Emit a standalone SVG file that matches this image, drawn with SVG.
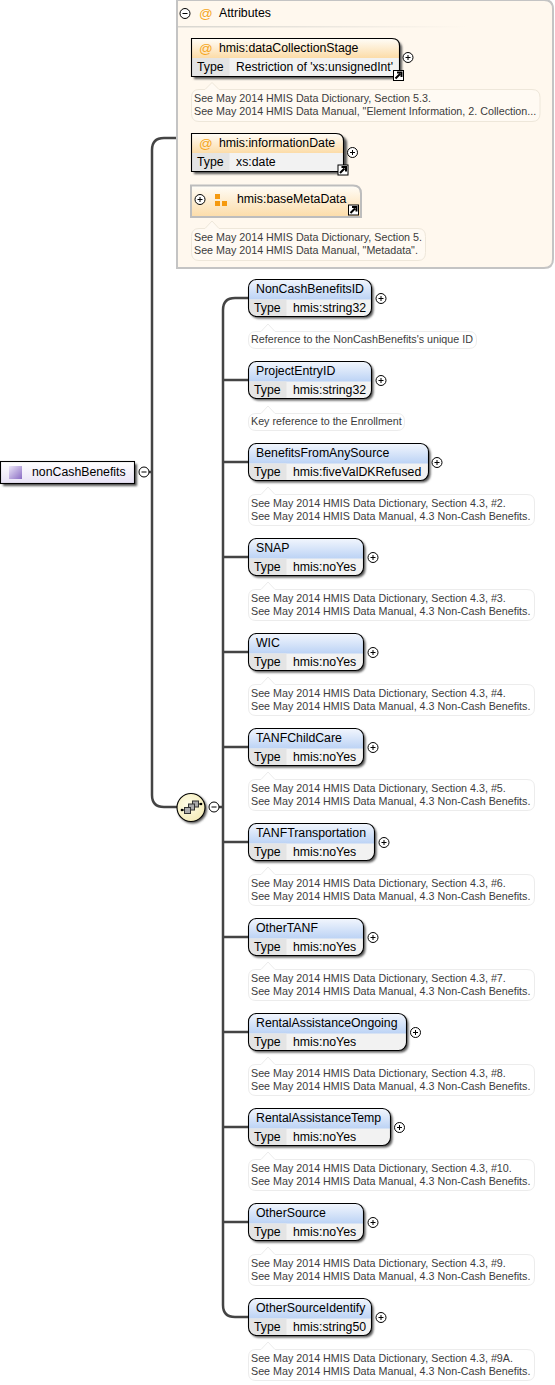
<svg xmlns="http://www.w3.org/2000/svg" width="555" height="1385" viewBox="0 0 555 1385">
<style>
text{font-family:"Liberation Sans",Arial,sans-serif;font-size:12.3px;fill:#000}
.note text{fill:#3c3c3c;font-size:10.73px}
.note path{fill:#fff;stroke:#ececec}
.attnote path{fill:#fffaf3;stroke:#eee7da}
.frame{fill:none;stroke:#000;stroke-width:1.1}
.shadow{fill:#555;filter:url(#soft)}
.row{fill:#f2f2f2}
.tcell{fill:#e4e4e4}
.conn{fill:none;stroke:#444;stroke-width:2.5}
.o{fill:#fff;stroke:#000;stroke-width:1}
.s{stroke:#000;stroke-width:1;fill:none}
.at{fill:#f5a623;font-size:13.500px}
</style>
<defs>
<filter id="soft" x="-10%" y="-10%" width="120%" height="120%"><feGaussianBlur stdDeviation="0.8"/></filter>
<linearGradient id="bl" x1="0" y1="0" x2="0" y2="1"><stop offset="0" stop-color="#f2f6fd"/><stop offset="1" stop-color="#bcd3f5"/></linearGradient>
<linearGradient id="or" x1="0" y1="0" x2="0" y2="1"><stop offset="0" stop-color="#fffdf8"/><stop offset="1" stop-color="#fcdca8"/></linearGradient>
<linearGradient id="pu" x1="0" y1="0" x2="0" y2="1"><stop offset="0" stop-color="#fff"/><stop offset="1" stop-color="#e8e2f6"/></linearGradient>
<linearGradient id="sq" x1="0" y1="0" x2="1" y2="1"><stop offset="0" stop-color="#ece6f8"/><stop offset="1" stop-color="#8a6cc4"/></linearGradient>
<linearGradient id="fade"><stop offset="0" stop-color="#d8d6d0"/><stop offset="1" stop-color="#d8d6d0" stop-opacity="0"/></linearGradient>
<radialGradient id="ye" cx=".4" cy=".4" r=".7"><stop offset="0" stop-color="#fffde8"/><stop offset="1" stop-color="#f3eab4"/></radialGradient>
<g id="plus"><circle class="o" r="5"/><path class="s" d="M-2.500 0H2.500M0-2.500V2.500"/></g>
<g id="minus"><circle class="o" r="5"/><path class="s" d="M-2.500 0H2.500"/></g>
<g id="link"><rect x="-5" y="-5" width="10" height="10" fill="#fff" stroke="#000"/><path d="M-3 3L1.500 -1.500M-1.500-3H3V1.500" fill="none" stroke="#000" stroke-width="2"/></g>
</defs>

<g id="connectors">
<path class="conn" d="M149 472H152M177 138H164Q152 138 152 150V795Q152 807 164 807H177"/>
<path class="conn" d="M219 807H223M249 298H235Q223 298 223 310V1305Q223 1317 235 1317H249"/>
<path class="conn" d="M223 380H249M223 462H249M223 557H249M223 652H249M223 747H249M223 842H249M223 937H249M223 1032H249M223 1127H249M223 1222H249"/>
</g>

<g id="attributes">
<path d="M177 0H544Q553 0 553 9V259Q553 268 544 268H177Z" fill="#fff8ee" stroke="#c4c4c4" stroke-width="2"/>
<rect x="178" y="26" width="290" height="1.500" fill="url(#fade)"/>
<use href="#minus" x="185" y="13.500"/>
<text class="at" x="199" y="18">@</text>
<text x="219" y="17">Attributes</text>
</g>

<g id="attr-dataCollectionStage">
<path class="shadow" d="M194 41H394Q402 41 402 49V79H194Z"/>
<path d="M191.500 38.500H392Q399.500 38.500 399.500 46V58H191.500Z" fill="url(#or)"/>
<rect class="row" x="191.500" y="58" width="208" height="18"/>
<rect class="tcell" x="191.500" y="58" width="38" height="18"/>
<path class="frame" d="M191.500 38.500H392Q399.500 38.500 399.500 46V76.500H191.500Z"/>
<text class="at" x="199" y="53">@</text>
<text x="219" y="52">hmis:dataCollectionStage</text>
<text x="197" y="71">Type</text>
<text x="236" y="71" textLength="157" lengthAdjust="spacingAndGlyphs">Restriction of 'xs:unsignedInt'</text>
<use href="#plus" x="408" y="57.500"/>
<use href="#link" x="398.500" y="75.500"/>
</g>
<g id="note-dataCollectionStage" class="note attnote">
<path d="M199 89.500H205L212 82.500L219 89.500H532Q540 89.500 540 97.500V113.500Q540 121.500 532 121.500H199Q191.500 121.500 191.500 113.500V97.500Q191.500 89.500 199 89.500Z"/>
<text x="194" y="102">See May 2014 HMIS Data Dictionary, Section 5.3.</text>
<text x="194" y="115">See May 2014 HMIS Data Manual, "Element Information, 2. Collection...</text>
</g>

<g id="attr-informationDate">
<path class="shadow" d="M194 136H339Q347 136 347 144V174H194Z"/>
<path d="M191.500 133.500H336Q343.500 133.500 343.500 141V153H191.500Z" fill="url(#or)"/>
<rect class="row" x="191.500" y="153" width="152" height="18"/>
<rect class="tcell" x="191.500" y="153" width="38" height="18"/>
<path class="frame" d="M191.500 133.500H336Q343.500 133.500 343.500 141V171.500H191.500Z"/>
<text class="at" x="199" y="148">@</text>
<text x="219" y="147">hmis:informationDate</text>
<text x="197" y="166">Type</text>
<text x="236" y="166">xs:date</text>
<use href="#plus" x="352.500" y="152.500"/>
<use href="#link" x="343" y="170"/>
</g>

<g id="attr-baseMetaData">
<path d="M191 185.500H353Q361 185.500 361 193.500V217H191Z" fill="url(#or)" stroke="#bdbdbd" stroke-width="2"/>
<use href="#plus" x="200" y="199.500"/>
<path d="M215 194h5v5h-5zM215 201h5v5h-5zM222 201h5v5h-5z" fill="#f59a10"/>
<text x="237" y="203">hmis:baseMetaData</text>
<use href="#link" x="353.500" y="210"/>
</g>
<g id="note-baseMetaData" class="note attnote">
<path d="M199 228.500H205L212 221L219 228.500H418Q425.500 228.500 425.500 236.500V252.500Q425.500 260.500 418 260.500H199Q191.500 260.500 191.500 252.500V236.500Q191.500 228.500 199 228.500Z"/>
<text x="194" y="241">See May 2014 HMIS Data Dictionary, Section 5.</text>
<text x="194" y="254">See May 2014 HMIS Data Manual, "Metadata".</text>
</g>

<g id="root-nonCashBenefits">
<rect class="shadow" x="3" y="464" width="134" height="22"/>
<rect x="0.500" y="461.500" width="134" height="22" fill="url(#pu)" stroke="#000" stroke-width="1.100"/>
<rect x="9" y="466" width="13" height="13" fill="url(#sq)"/>
<text x="32" y="476">nonCashBenefits</text>
<use href="#minus" x="144" y="472"/>
</g>

<g id="sequence">
<circle class="shadow" cx="192.500" cy="809" r="14.500"/>
<circle cx="191" cy="807.500" r="14" fill="url(#ye)" stroke="#000" stroke-width="1.100"/>
<path d="M182 810H187M196 804H201" stroke="#000"/>
<circle cx="182" cy="810" r="1.300"/><circle cx="201" cy="804" r="1.300"/>
<rect x="192.500" y="801" width="6" height="6" fill="#aaa" stroke="#333"/>
<rect x="188.500" y="804" width="6" height="6" fill="#aaa" stroke="#333"/>
<rect x="184.500" y="807.500" width="6" height="6" fill="#aaa" stroke="#333"/>
<use href="#minus" x="214" y="807"/>
</g>

<g id="el-NonCashBenefitsID" transform="translate(248.500 279.500)"><rect class="shadow" x="2" y="2" width="123" height="37" rx="8"/><rect class="row" width="123" height="37" rx="8"/><path d="M0 20V8Q0 0 8 0H115Q123 0 123 8V20Z" fill="url(#bl)"/><path class="tcell" d="M0 20H38V37H8Q0 37 0 29Z"/><rect class="frame" width="123" height="37" rx="8"/><text x="7.500" y="13.500">NonCashBenefitsID</text><text x="5.500" y="32.500">Type</text><text x="44.500" y="32.500">hmis:string32</text><use href="#plus" x="132.500" y="19"/></g>
<g id="note-NonCashBenefitsID" class="note"><path d="M256 331.500H261L268 324L275 331.500H469Q476.500 331.500 476.500 339V341Q476.500 348.500 469 348.500H256Q248.500 348.500 248.500 341V339Q248.500 331.500 256 331.500Z"/><text x="251" y="343">Reference to the NonCashBenefits's unique ID</text></g>

<g id="el-ProjectEntryID" transform="translate(248.500 361.500)"><rect class="shadow" x="2" y="2" width="123" height="37" rx="8"/><rect class="row" width="123" height="37" rx="8"/><path d="M0 20V8Q0 0 8 0H115Q123 0 123 8V20Z" fill="url(#bl)"/><path class="tcell" d="M0 20H38V37H8Q0 37 0 29Z"/><rect class="frame" width="123" height="37" rx="8"/><text x="7.500" y="13.500">ProjectEntryID</text><text x="5.500" y="32.500">Type</text><text x="44.500" y="32.500">hmis:string32</text><use href="#plus" x="132.500" y="19"/></g>
<g id="note-ProjectEntryID" class="note"><path d="M256 413.500H261L268 406L275 413.500H397Q404.500 413.500 404.500 421V423Q404.500 430.500 397 430.500H256Q248.500 430.500 248.500 423V421Q248.500 413.500 256 413.500Z"/><text x="251" y="425">Key reference to the Enrollment</text></g>

<g id="el-BenefitsFromAnySource" transform="translate(248.500 443.500)"><rect class="shadow" x="2" y="2" width="180" height="37" rx="8"/><rect class="row" width="180" height="37" rx="8"/><path d="M0 20V8Q0 0 8 0H172Q180 0 180 8V20Z" fill="url(#bl)"/><path class="tcell" d="M0 20H38V37H8Q0 37 0 29Z"/><rect class="frame" width="180" height="37" rx="8"/><text x="7.500" y="13.500">BenefitsFromAnySource</text><text x="5.500" y="32.500">Type</text><text x="44.500" y="32.500">hmis:fiveValDKRefused</text><use href="#plus" x="188.500" y="19"/></g>
<g id="note-BenefitsFromAnySource" class="note"><path d="M256 494.500H261L268 487L275 494.500H527Q534.500 494.500 534.500 502V518Q534.500 525.500 527 525.500H256Q248.500 525.500 248.500 518V502Q248.500 494.500 256 494.500Z"/><text x="251" y="507">See May 2014 HMIS Data Dictionary, Section 4.3, #2.</text><text x="251" y="520">See May 2014 HMIS Data Manual, 4.3 Non-Cash Benefits.</text></g>

<g id="el-SNAP" transform="translate(248.500 538.500)"><rect class="shadow" x="2" y="2" width="115" height="37" rx="8"/><rect class="row" width="115" height="37" rx="8"/><path d="M0 20V8Q0 0 8 0H107Q115 0 115 8V20Z" fill="url(#bl)"/><path class="tcell" d="M0 20H38V37H8Q0 37 0 29Z"/><rect class="frame" width="115" height="37" rx="8"/><text x="7.500" y="13.500">SNAP</text><text x="5.500" y="32.500">Type</text><text x="44.500" y="32.500">hmis:noYes</text><use href="#plus" x="124.500" y="19"/></g>
<g id="note-SNAP" class="note"><path d="M256 589.500H261L268 582L275 589.500H527Q534.500 589.500 534.500 597V613Q534.500 620.500 527 620.500H256Q248.500 620.500 248.500 613V597Q248.500 589.500 256 589.500Z"/><text x="251" y="602">See May 2014 HMIS Data Dictionary, Section 4.3, #3.</text><text x="251" y="615">See May 2014 HMIS Data Manual, 4.3 Non-Cash Benefits.</text></g>

<g id="el-WIC" transform="translate(248.500 633.500)"><rect class="shadow" x="2" y="2" width="115" height="37" rx="8"/><rect class="row" width="115" height="37" rx="8"/><path d="M0 20V8Q0 0 8 0H107Q115 0 115 8V20Z" fill="url(#bl)"/><path class="tcell" d="M0 20H38V37H8Q0 37 0 29Z"/><rect class="frame" width="115" height="37" rx="8"/><text x="7.500" y="13.500">WIC</text><text x="5.500" y="32.500">Type</text><text x="44.500" y="32.500">hmis:noYes</text><use href="#plus" x="124.500" y="19"/></g>
<g id="note-WIC" class="note"><path d="M256 684.500H261L268 677L275 684.500H527Q534.500 684.500 534.500 692V708Q534.500 715.500 527 715.500H256Q248.500 715.500 248.500 708V692Q248.500 684.500 256 684.500Z"/><text x="251" y="697">See May 2014 HMIS Data Dictionary, Section 4.3, #4.</text><text x="251" y="710">See May 2014 HMIS Data Manual, 4.3 Non-Cash Benefits.</text></g>

<g id="el-TANFChildCare" transform="translate(248.500 728.500)"><rect class="shadow" x="2" y="2" width="115" height="37" rx="8"/><rect class="row" width="115" height="37" rx="8"/><path d="M0 20V8Q0 0 8 0H107Q115 0 115 8V20Z" fill="url(#bl)"/><path class="tcell" d="M0 20H38V37H8Q0 37 0 29Z"/><rect class="frame" width="115" height="37" rx="8"/><text x="7.500" y="13.500">TANFChildCare</text><text x="5.500" y="32.500">Type</text><text x="44.500" y="32.500">hmis:noYes</text><use href="#plus" x="124.500" y="19"/></g>
<g id="note-TANFChildCare" class="note"><path d="M256 779.500H261L268 772L275 779.500H527Q534.500 779.500 534.500 787V803Q534.500 810.500 527 810.500H256Q248.500 810.500 248.500 803V787Q248.500 779.500 256 779.500Z"/><text x="251" y="792">See May 2014 HMIS Data Dictionary, Section 4.3, #5.</text><text x="251" y="805">See May 2014 HMIS Data Manual, 4.3 Non-Cash Benefits.</text></g>

<g id="el-TANFTransportation" transform="translate(248.500 823.500)"><rect class="shadow" x="2" y="2" width="126" height="37" rx="8"/><rect class="row" width="126" height="37" rx="8"/><path d="M0 20V8Q0 0 8 0H118Q126 0 126 8V20Z" fill="url(#bl)"/><path class="tcell" d="M0 20H38V37H8Q0 37 0 29Z"/><rect class="frame" width="126" height="37" rx="8"/><text x="7.500" y="13.500">TANFTransportation</text><text x="5.500" y="32.500">Type</text><text x="44.500" y="32.500">hmis:noYes</text><use href="#plus" x="135.500" y="19"/></g>
<g id="note-TANFTransportation" class="note"><path d="M256 874.500H261L268 867L275 874.500H527Q534.500 874.500 534.500 882V898Q534.500 905.500 527 905.500H256Q248.500 905.500 248.500 898V882Q248.500 874.500 256 874.500Z"/><text x="251" y="887">See May 2014 HMIS Data Dictionary, Section 4.3, #6.</text><text x="251" y="900">See May 2014 HMIS Data Manual, 4.3 Non-Cash Benefits.</text></g>

<g id="el-OtherTANF" transform="translate(248.500 918.500)"><rect class="shadow" x="2" y="2" width="115" height="37" rx="8"/><rect class="row" width="115" height="37" rx="8"/><path d="M0 20V8Q0 0 8 0H107Q115 0 115 8V20Z" fill="url(#bl)"/><path class="tcell" d="M0 20H38V37H8Q0 37 0 29Z"/><rect class="frame" width="115" height="37" rx="8"/><text x="7.500" y="13.500">OtherTANF</text><text x="5.500" y="32.500">Type</text><text x="44.500" y="32.500">hmis:noYes</text><use href="#plus" x="124.500" y="19"/></g>
<g id="note-OtherTANF" class="note"><path d="M256 969.500H261L268 962L275 969.500H527Q534.500 969.500 534.500 977V993Q534.500 1000.500 527 1000.500H256Q248.500 1000.500 248.500 993V977Q248.500 969.500 256 969.500Z"/><text x="251" y="982">See May 2014 HMIS Data Dictionary, Section 4.3, #7.</text><text x="251" y="995">See May 2014 HMIS Data Manual, 4.3 Non-Cash Benefits.</text></g>

<g id="el-RentalAssistanceOngoing" transform="translate(248.500 1013.500)"><rect class="shadow" x="2" y="2" width="158" height="37" rx="8"/><rect class="row" width="158" height="37" rx="8"/><path d="M0 20V8Q0 0 8 0H150Q158 0 158 8V20Z" fill="url(#bl)"/><path class="tcell" d="M0 20H38V37H8Q0 37 0 29Z"/><rect class="frame" width="158" height="37" rx="8"/><text x="7.500" y="13.500">RentalAssistanceOngoing</text><text x="5.500" y="32.500">Type</text><text x="44.500" y="32.500">hmis:noYes</text><use href="#plus" x="167" y="19"/></g>
<g id="note-RentalAssistanceOngoing" class="note"><path d="M256 1064.500H261L268 1057L275 1064.500H527Q534.500 1064.500 534.500 1072V1088Q534.500 1095.500 527 1095.500H256Q248.500 1095.500 248.500 1088V1072Q248.500 1064.500 256 1064.500Z"/><text x="251" y="1077">See May 2014 HMIS Data Dictionary, Section 4.3, #8.</text><text x="251" y="1090">See May 2014 HMIS Data Manual, 4.3 Non-Cash Benefits.</text></g>

<g id="el-RentalAssistanceTemp" transform="translate(248.500 1108.500)"><rect class="shadow" x="2" y="2" width="142" height="37" rx="8"/><rect class="row" width="142" height="37" rx="8"/><path d="M0 20V8Q0 0 8 0H134Q142 0 142 8V20Z" fill="url(#bl)"/><path class="tcell" d="M0 20H38V37H8Q0 37 0 29Z"/><rect class="frame" width="142" height="37" rx="8"/><text x="7.500" y="13.500">RentalAssistanceTemp</text><text x="5.500" y="32.500">Type</text><text x="44.500" y="32.500">hmis:noYes</text><use href="#plus" x="151" y="19"/></g>
<g id="note-RentalAssistanceTemp" class="note"><path d="M256 1159.500H261L268 1152L275 1159.500H527Q534.500 1159.500 534.500 1167V1183Q534.500 1190.500 527 1190.500H256Q248.500 1190.500 248.500 1183V1167Q248.500 1159.500 256 1159.500Z"/><text x="251" y="1172">See May 2014 HMIS Data Dictionary, Section 4.3, #10.</text><text x="251" y="1185">See May 2014 HMIS Data Manual, 4.3 Non-Cash Benefits.</text></g>

<g id="el-OtherSource" transform="translate(248.500 1203.500)"><rect class="shadow" x="2" y="2" width="115" height="37" rx="8"/><rect class="row" width="115" height="37" rx="8"/><path d="M0 20V8Q0 0 8 0H107Q115 0 115 8V20Z" fill="url(#bl)"/><path class="tcell" d="M0 20H38V37H8Q0 37 0 29Z"/><rect class="frame" width="115" height="37" rx="8"/><text x="7.500" y="13.500">OtherSource</text><text x="5.500" y="32.500">Type</text><text x="44.500" y="32.500">hmis:noYes</text><use href="#plus" x="124.500" y="19"/></g>
<g id="note-OtherSource" class="note"><path d="M256 1254.500H261L268 1247L275 1254.500H527Q534.500 1254.500 534.500 1262V1278Q534.500 1285.500 527 1285.500H256Q248.500 1285.500 248.500 1278V1262Q248.500 1254.500 256 1254.500Z"/><text x="251" y="1267">See May 2014 HMIS Data Dictionary, Section 4.3, #9.</text><text x="251" y="1280">See May 2014 HMIS Data Manual, 4.3 Non-Cash Benefits.</text></g>

<g id="el-OtherSourceIdentify" transform="translate(248.500 1298.500)"><rect class="shadow" x="2" y="2" width="123" height="37" rx="8"/><rect class="row" width="123" height="37" rx="8"/><path d="M0 20V8Q0 0 8 0H115Q123 0 123 8V20Z" fill="url(#bl)"/><path class="tcell" d="M0 20H38V37H8Q0 37 0 29Z"/><rect class="frame" width="123" height="37" rx="8"/><text x="7.500" y="13.500">OtherSourceIdentify</text><text x="5.500" y="32.500">Type</text><text x="44.500" y="32.500">hmis:string50</text><use href="#plus" x="132.500" y="19"/></g>
<g id="note-OtherSourceIdentify" class="note"><path d="M256 1349.500H261L268 1342L275 1349.500H527Q534.500 1349.500 534.500 1357V1373Q534.500 1380.500 527 1380.500H256Q248.500 1380.500 248.500 1373V1357Q248.500 1349.500 256 1349.500Z"/><text x="251" y="1362">See May 2014 HMIS Data Dictionary, Section 4.3, #9A.</text><text x="251" y="1375">See May 2014 HMIS Data Manual, 4.3 Non-Cash Benefits.</text></g>
</svg>
